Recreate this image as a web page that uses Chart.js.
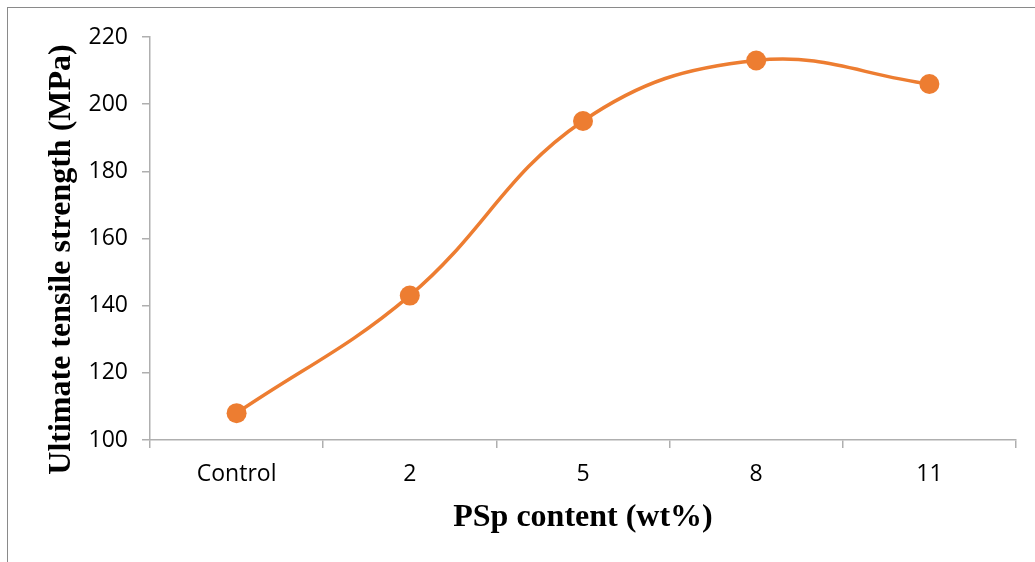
<!DOCTYPE html>
<html>
<head>
<meta charset="utf-8">
<script src="https://cdn.jsdelivr.net/npm/chart.js@4"></script>
<style>
html,body{margin:0;padding:0;background:#fff;overflow:hidden;}
#frame{position:absolute;left:7px;top:7px;width:1100px;height:600px;border-left:1px solid #8a8a8a;border-top:1px solid #8a8a8a;}
#wrap{position:absolute;left:0;top:0;width:1035px;height:562px;}
</style>
</head>
<body>
<div id="frame"></div>
<div id="wrap"><canvas id="chart" width="1035" height="562"></canvas></div>
<script>
const categories=["Control","2","5","8","11"];
const strength=[108,143,195,213,206];
const yTicks=[100,120,140,160,180,200,220];

const xTitle="PSp content (wt%)";
const yTitle="Ultimate tensile strength (MPa)";

const orange="#ED7D31";
const axisGray="#AFAFAF";

// axis titles drawn by hand so they sit where the original has them
const axisTitles={
id:"axisTitles",
afterDraw(chart){
const {ctx,chartArea}=chart;
ctx.save();
ctx.fillStyle="#000";
ctx.font="bold 32px 'Liberation Serif'";
ctx.textAlign="center";
ctx.textBaseline="alphabetic";
ctx.fillText(xTitle,(chartArea.left+chartArea.right)/2,526);
ctx.translate(chartArea.left-80,(chartArea.top+chartArea.bottom)/2+21);
ctx.rotate(-Math.PI/2);
ctx.fillText(yTitle,0,0);
ctx.restore();
}
};

new Chart(document.getElementById("chart"),{
type:"line",
data:{
labels:categories,
datasets:[{
data:strength,
borderColor:orange,
backgroundColor:orange,
borderWidth:3.5,
tension:0.4,
pointRadius:10,
pointHoverRadius:10,
pointBackgroundColor:orange,
pointBorderWidth:0
}]
},
options:{
responsive:false,
animation:false,
layout:{padding:{left:8,top:37,right:19,bottom:0}},
plugins:{legend:{display:false},tooltip:{enabled:false}},
scales:{
x:{
offset:true,
grid:{offset:true,drawOnChartArea:false,tickLength:8,color:axisGray,lineWidth:1.5},
border:{color:axisGray,width:1.5},
ticks:{color:"#000",font:{family:"'Open Sans'",size:23},padding:13},
afterFit(scale){scale.height=122;}
},
y:{
min:100,
max:220,
afterBuildTicks(scale){scale.ticks=yTicks.map(v=>({value:v}));},
grid:{drawOnChartArea:false,tickLength:8,color:axisGray,lineWidth:1.5},
border:{color:axisGray,width:1.5},
ticks:{color:"#000",font:{family:"'Open Sans'",size:23},padding:14},
afterFit(scale){scale.width=142;}
}
}
},
plugins:[axisTitles]
});
</script>
</body>
</html>
